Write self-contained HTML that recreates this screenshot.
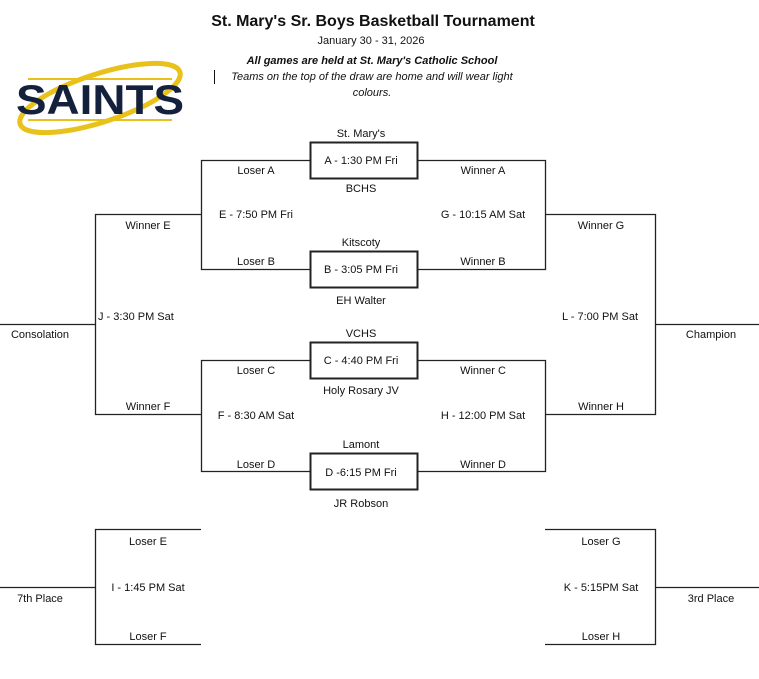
<!DOCTYPE html>
<html><head><style>
html,body{margin:0;padding:0;background:#fff;}
svg{display:block;}
text{font-family:"Liberation Sans",sans-serif;font-size:11px;fill:#111;}
</style></head><body>
<svg width="759" height="679" viewBox="0 0 759 679">
<g>
<ellipse cx="100" cy="98" rx="84" ry="24" transform="rotate(-18 100 98)" fill="none" stroke="#e8c21a" stroke-width="5"/>
<line x1="28" y1="79" x2="172" y2="79" stroke="#e8c21a" stroke-width="2"/>
<line x1="28" y1="120" x2="172" y2="120" stroke="#e8c21a" stroke-width="2"/>
<text x="16" y="114" style="font-size:42px;font-weight:bold;fill:#14213d" textLength="168" lengthAdjust="spacingAndGlyphs">SAINTS</text>
</g>
<text x="373" y="26" text-anchor="middle" style="font-size:16px;font-weight:bold">St. Mary's Sr. Boys Basketball Tournament</text>
<text x="371" y="44" text-anchor="middle" style="font-size:11px">January 30 - 31, 2026</text>
<text x="372" y="64" text-anchor="middle" style="font-size:11px;font-weight:bold;font-style:italic">All games are held at St. Mary's Catholic School</text>
<line x1="214.5" y1="70" x2="214.5" y2="84" stroke="#111" stroke-width="1"/>
<text x="372" y="80" text-anchor="middle" style="font-size:11px;font-style:italic">Teams on the top of the draw are home and will wear light</text>
<text x="372" y="96" text-anchor="middle" style="font-size:11px;font-style:italic">colours.</text>
<g fill="none" stroke="#222" stroke-width="1.3">
<rect x="310.5" y="142.5" width="107" height="36" stroke-width="2"/>
<rect x="310.5" y="251.5" width="107" height="36" stroke-width="2"/>
<rect x="310.5" y="342.5" width="107" height="36" stroke-width="2"/>
<rect x="310.5" y="453.5" width="107" height="36" stroke-width="2"/>
<polyline points="310,160.5 201.5,160.5 201.5,269.5 310,269.5"/>
<polyline points="418,160.5 545.5,160.5 545.5,269.5 418,269.5"/>
<polyline points="310,360.5 201.5,360.5 201.5,471.5 310,471.5"/>
<polyline points="418,360.5 545.5,360.5 545.5,471.5 418,471.5"/>
<polyline points="201,214.5 95.5,214.5 95.5,414.5 201,414.5"/>
<polyline points="545,214.5 655.5,214.5 655.5,414.5 545,414.5"/>
<line x1="0" y1="324.5" x2="95" y2="324.5"/>
<line x1="656" y1="324.5" x2="759" y2="324.5"/>
<polyline points="201,529.5 95.5,529.5 95.5,644.5 201,644.5"/>
<polyline points="545,529.5 655.5,529.5 655.5,644.5 545,644.5"/>
<line x1="0" y1="587.5" x2="95" y2="587.5"/>
<line x1="656" y1="587.5" x2="759" y2="587.5"/>
</g>
<g text-anchor="middle">
<text x="361" y="137">St. Mary's</text>
<text x="361" y="164">A  - 1:30 PM Fri</text>
<text x="361" y="192">BCHS</text>
<text x="361" y="246">Kitscoty</text>
<text x="361" y="273">B - 3:05 PM Fri</text>
<text x="361" y="304">EH Walter</text>
<text x="361" y="337">VCHS</text>
<text x="361" y="364">C - 4:40 PM Fri</text>
<text x="361" y="394">Holy Rosary JV</text>
<text x="361" y="448">Lamont</text>
<text x="361" y="476">D -6:15 PM Fri</text>
<text x="361" y="507">JR Robson</text>
<text x="256" y="174">Loser A</text>
<text x="256" y="218">E - 7:50 PM Fri</text>
<text x="256" y="265">Loser B</text>
<text x="483" y="174">Winner A</text>
<text x="483" y="218">G - 10:15 AM Sat</text>
<text x="483" y="265">Winner B</text>
<text x="256" y="374">Loser C</text>
<text x="256" y="419">F - 8:30 AM Sat</text>
<text x="256" y="468">Loser D</text>
<text x="483" y="374">Winner C</text>
<text x="483" y="419">H - 12:00 PM Sat</text>
<text x="483" y="468">Winner D</text>
<text x="148" y="229">Winner E</text>
<text x="148" y="410">Winner F</text>
<text x="601" y="229">Winner G</text>
<text x="601" y="410">Winner H</text>
<text x="40" y="338">Consolation</text>
<text x="711" y="338">Champion</text>
<text x="148" y="545">Loser E</text>
<text x="148" y="591">I - 1:45 PM Sat</text>
<text x="148" y="640">Loser F</text>
<text x="601" y="545">Loser G</text>
<text x="601" y="591">K - 5:15PM Sat</text>
<text x="601" y="640">Loser H</text>
<text x="40" y="602">7th Place</text>
<text x="711" y="602">3rd Place</text>
</g>
<text x="98" y="320">J - 3:30 PM Sat</text>
<text x="562" y="320">L - 7:00 PM Sat</text>
</svg>
</body></html>
